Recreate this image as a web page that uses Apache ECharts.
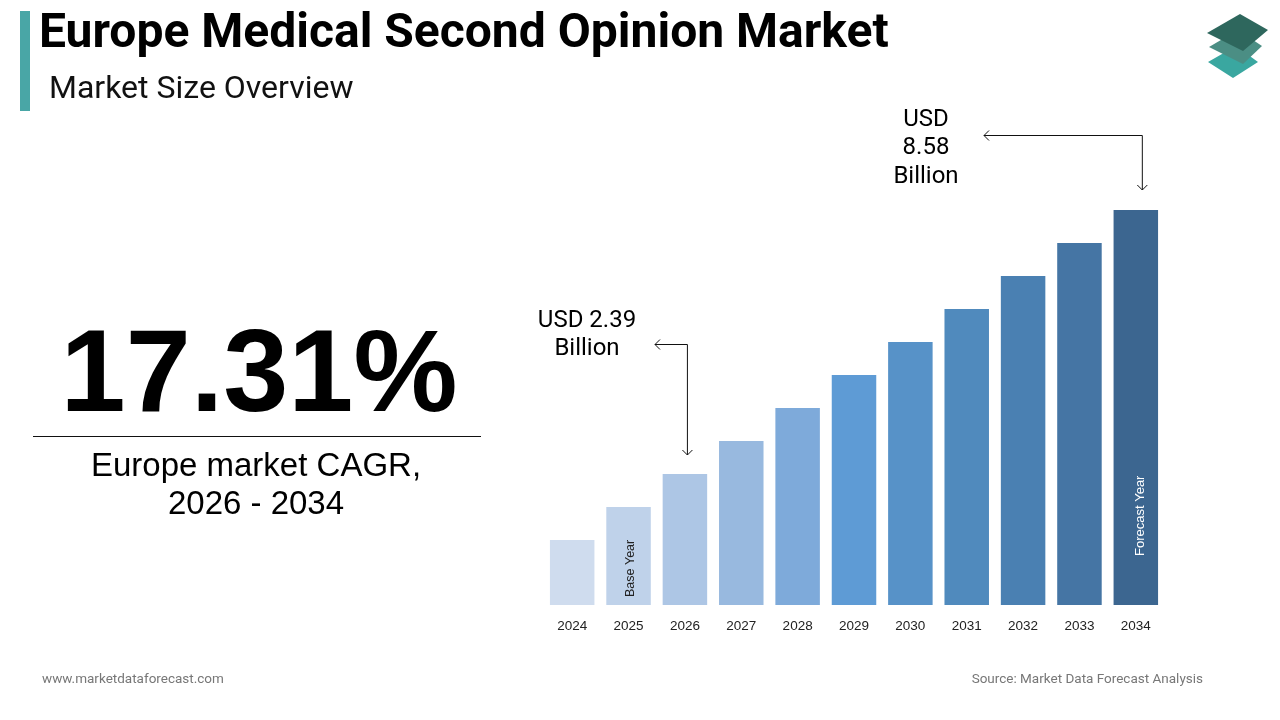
<!DOCTYPE html>
<html><head><meta charset="utf-8">
<script src="https://cdn.jsdelivr.net/npm/echarts@6/dist/echarts.min.js"></script>
<style>html,body{margin:0;padding:0;background:#fff}#c{width:1280px;height:720px}</style>
</head><body><div id="c"></div>
<script>
const years = ['2024','2025','2026','2027','2028','2029','2030','2031','2032','2033','2034'];
const barIndex = [65, 98, 131, 164, 197, 230, 263, 296, 329, 362, 395];
const barColors = ['#cfdcee','#bfd2ea','#adc6e5','#98b9df','#7eaada','#5e9bd5','#5792c8','#508abd','#4a80b2','#4575a4','#3c6690'];
const title = 'Europe Medical Second Opinion Market';
const subtitle = 'Market Size Overview';
const cagr = '17.31%';
const cagrLabel = ['Europe market CAGR,', '2026 - 2034'];
const startLabel = ['USD 2.39', 'Billion'];
const endLabel = ['USD', '8.58', 'Billion'];
const footerLeft = 'www.marketdataforecast.com';
const footerRight = 'Source: Market Data Forecast Analysis';

const chart = echarts.init(document.getElementById('c'));
const data = barIndex.map((v, i) => {
  const d = { value: v, itemStyle: { color: barColors[i] } };
  if (i === 1) d.label = { show: true, formatter: 'Base Year', position: 'insideBottom', rotate: 90, align: 'left', verticalAlign: 'middle', distance: 8, offset: [0, 2], color: '#222', fontSize: 12.5, fontFamily: 'Liberation Sans, Arial' };
  if (i === 10) d.label = { show: true, formatter: 'Forecast Year', position: 'insideBottom', rotate: 90, align: 'left', verticalAlign: 'middle', distance: 49, offset: [0, 5], color: '#fff', fontSize: 13, fontFamily: 'Liberation Sans, Arial' };
  return d;
});

chart.setOption({
  animation: false,
  grid: { left: 544, right: 116, top: 210, bottom: 115 },
  xAxis: { type: 'category', data: years, axisLine: { show: false }, axisTick: { show: false },
    axisLabel: { color: '#222', fontSize: 13.5, margin: 14, fontFamily: 'Liberation Sans, Arial' } },
  yAxis: { type: 'value', min: 0, max: 395, show: false, splitLine: { show: false } },
  series: [{ type: 'bar', data: data, barWidth: 44.5 }]
});

function arrowHead(x, y, dir) {
  const s = 5;
  let pts;
  if (dir === 'left') pts = [[x + s, y - s], [x, y], [x + s, y + s]];
  else pts = [[x - s, y - s], [x, y], [x + s, y - s]];
  return { type: 'polyline', shape: { points: pts }, style: { stroke: '#111', lineWidth: 1, fill: null } };
}

const p26 = chart.convertToPixel({ gridIndex: 0 }, [2, barIndex[2]]);
const p34 = chart.convertToPixel({ gridIndex: 0 }, [10, barIndex[10]]);
const ax1 = p26[0] + 2, ay1 = 344, ax1end = p26[1] - 19;
const ax2 = p34[0] + 6, ay2 = 135, ax2end = p34[1] - 20;

const g = [
  { type: 'rect', shape: { x: 20, y: 11, width: 10, height: 100 }, style: { fill: '#49a6a6' } },
  { type: 'text', left: 39, top: 11, style: { text: title, font: 'bold 48px Roboto', fill: '#000' } },
  { type: 'text', left: 49, top: 74, style: { text: subtitle, font: '32px Roboto', fill: '#111' } },
  // logo
  { type: 'polygon', shape: { points: [[1208, 62], [1236, 46], [1258, 62], [1233, 78]] }, style: { fill: '#3aa7a0' } },
  { type: 'polygon', shape: { points: [[1209, 47], [1238, 30], [1262, 46], [1243, 64]] }, style: { fill: '#4b8e84' } },
  { type: 'polygon', shape: { points: [[1207, 33], [1240, 14], [1268, 30], [1243, 51]] }, style: { fill: '#2e675d' } },
  // CAGR
  { type: 'text', x: 259, y: 379, style: { text: cagr, font: 'bold 117px "Liberation Sans", Arial', fill: '#000', align: 'center', verticalAlign: 'middle' } },
  { type: 'line', shape: { x1: 33, y1: 436.5, x2: 481, y2: 436.5 }, style: { stroke: '#111', lineWidth: 1 } },
  { type: 'text', x: 256, y: 467, style: { text: cagrLabel[0], font: '33px "Liberation Sans", Arial', fill: '#000', align: 'center', verticalAlign: 'middle' } },
  { type: 'text', x: 256, y: 505, style: { text: cagrLabel[1], font: '33px "Liberation Sans", Arial', fill: '#000', align: 'center', verticalAlign: 'middle' } },
  // annotations
  { type: 'text', x: 587, y: 321, style: { text: startLabel[0], font: '24px Roboto', fill: '#000', align: 'center', verticalAlign: 'middle' } },
  { type: 'text', x: 587, y: 349, style: { text: startLabel[1], font: '24px Roboto', fill: '#000', align: 'center', verticalAlign: 'middle' } },
  { type: 'text', x: 926, y: 120, style: { text: endLabel[0], font: '24px Roboto', fill: '#000', align: 'center', verticalAlign: 'middle' } },
  { type: 'text', x: 926, y: 148, style: { text: endLabel[1], font: '24px Roboto', fill: '#000', align: 'center', verticalAlign: 'middle' } },
  { type: 'text', x: 926, y: 177, style: { text: endLabel[2], font: '24px Roboto', fill: '#000', align: 'center', verticalAlign: 'middle' } },
  { type: 'polyline', shape: { points: [[655, ay1 + 0.5], [ax1 + 0.5, ay1 + 0.5], [ax1 + 0.5, ax1end]] }, style: { stroke: '#111', lineWidth: 1, fill: null } },
  arrowHead(655, ay1 + 0.5, 'left'),
  arrowHead(ax1 + 0.5, ax1end, 'down'),
  { type: 'polyline', shape: { points: [[984, ay2 + 0.5], [ax2 + 0.5, ay2 + 0.5], [ax2 + 0.5, ax2end]] }, style: { stroke: '#111', lineWidth: 1, fill: null } },
  arrowHead(984, ay2 + 0.5, 'left'),
  arrowHead(ax2 + 0.5, ax2end, 'down'),
  // footer
  { type: 'text', left: 42, top: 673, style: { text: footerLeft, font: '13.5px Roboto', fill: '#777' } },
  { type: 'text', right: 77, top: 673, style: { text: footerRight, font: '13.5px Roboto', fill: '#777' } }
];
chart.setOption({ graphic: g });
</script></body></html>
